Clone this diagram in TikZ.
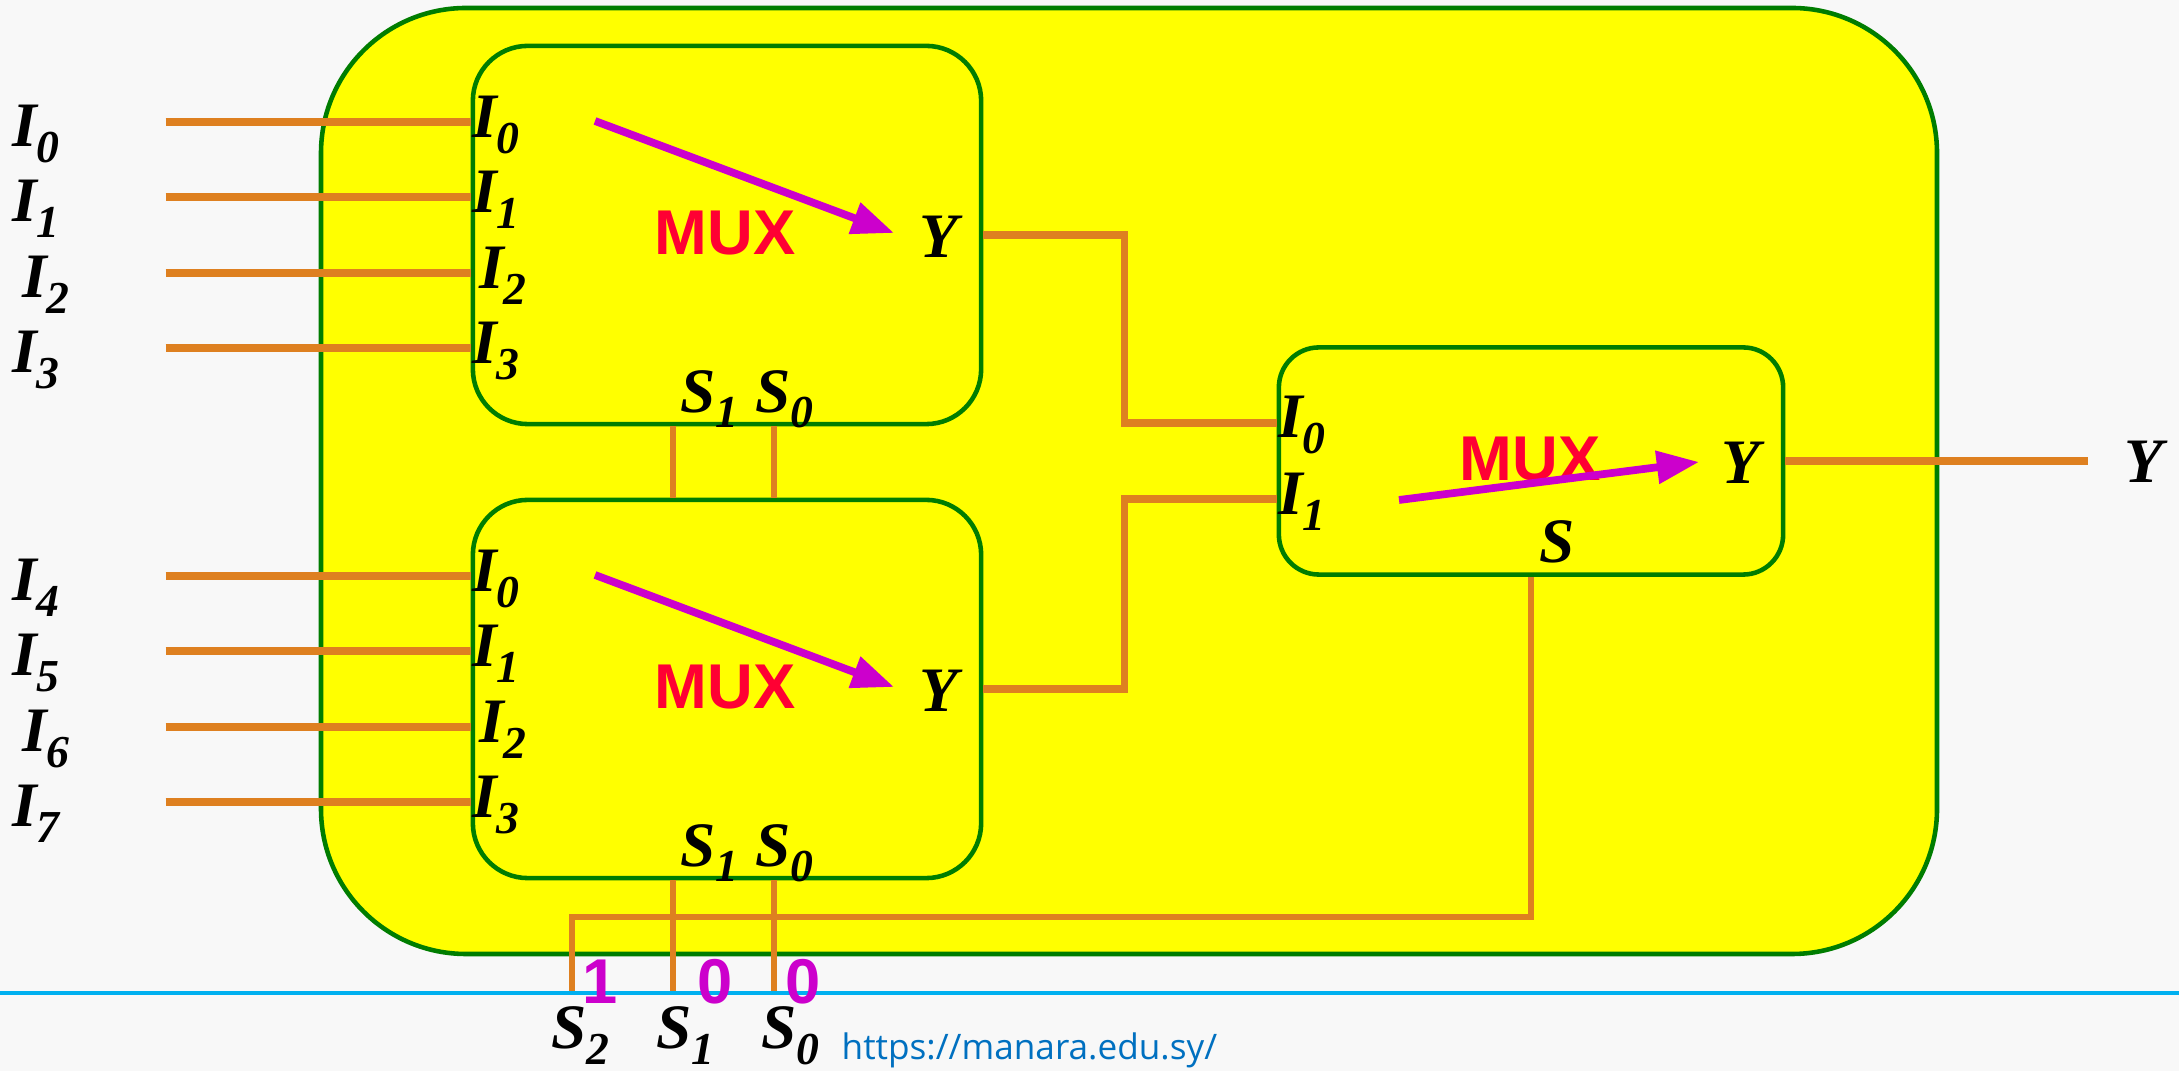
\documentclass[tikz,border=0pt]{standalone}
\usepackage{fontspec}
\setmainfont{Liberation Serif}
\newfontfamily\muxfont{Liberation Sans}
\newfontfamily\urlfont{Open Sans}
\usetikzlibrary{arrows.meta, positioning, calc}

\definecolor{wire}{RGB}{222,128,32}
\definecolor{frame}{RGB}{0,125,0}
\definecolor{route}{RGB}{204,0,204}
\definecolor{muxred}{RGB}{255,0,51}
\definecolor{rule}{RGB}{0,176,240}
\definecolor{link}{RGB}{0,112,192}
\definecolor{paper}{RGB}{248,248,248}
\definecolor{board}{RGB}{255,255,0}

\newcommand{\sig}[2]{\bfseries\itshape #1\raisebox{-4.3pt}{\fontsize{13}{13}\selectfont #2}}

\begin{document}
\begin{tikzpicture}[
    x=0.01cm, y=-0.01cm,
    mux/.style={draw=frame, line width=1.3pt, fill=board,
                rounded corners=0.55cm, minimum width=5.08cm,
                minimum height=3.78cm},
    lbl/.style={font=\fontsize{18}{18}\selectfont, inner sep=0pt},
    io/.style={wire, line width=2pt},
    sel/.style={wire, line width=1.6pt},
    flow/.style={route, line width=2.2pt, -{Triangle[length=12pt, width=9pt]}},
    tag/.style={font=\muxfont\fontsize{18}{18}\selectfont\bfseries,
                text=muxred, inner sep=0pt},
    bit/.style={font=\muxfont\fontsize{18}{18}\selectfont\bfseries,
                text=route, inner sep=0pt}
  ]
  \fill[paper] (0,0) rectangle (2179,1071);
  \useasboundingbox (0,0) rectangle (2179,1071);

  % outer box
  \draw[frame, line width=1.3pt, fill=board, rounded corners=1.45cm]
    (321,8) rectangle (1937,954);

  \node[mux] (muxA) at (727,235) {};
  \node[mux] (muxB) at (727,689) {};
  \node[mux, minimum width=5.04cm, minimum height=2.27cm,
        rounded corners=0.4cm] (muxC) at (1531,461) {};

  % data inputs of the two 4-to-1 muxes
  \foreach \m/\k in {A/0, B/4} {
    \foreach \j/\dy/\dx in {0/-113/0, 1/-38/0, 2/38/10, 3/113/0} {
      \pgfmathtruncatemacro{\n}{\k+\j}
      \coordinate (p\m\j) at ($(mux\m.west)+(0,\dy)$);
      \coordinate (w\n) at ($(p\m\j)+(-305,0)$);
      \draw[io] (w\n) -- (p\m\j);
      \node[lbl, anchor=base west] (x\n) at ($(w\n)+(-154+\dx,25)$) {\sig{I}{\n}};
      \node[lbl, anchor=base west] (i\m\j) at ($(p\m\j)+(1+0.7*\dx,16)$) {\sig{I}{\j}};
    }
    \node[lbl, anchor=base] (y\m) at ($(mux\m.east)+(-45,23)$) {\sig{Y}{}};
    \node[tag, anchor=base] (t\m) at ($(mux\m)+(-2,20)$) {MUX};
    \draw[flow] ($(mux\m)+(-132,-114)$) -- ($(mux\m)+(167,-2)$);
    \node[lbl, anchor=base west] (a\m1) at ($(mux\m.south)+(-47,-14)$) {\sig{S}{1}};
    \node[lbl, anchor=base west] (a\m0) at ($(mux\m.south)+(28,-14)$) {\sig{S}{0}};
  }

  % 2-to-1 mux
  \coordinate (cI0) at ($(muxC.west)+(0,-38)$);
  \coordinate (cI1) at ($(muxC.west)+(0,38)$);
  \coordinate (yout) at ($(muxC.east)+(303,0)$);
  \node[lbl, anchor=base west] (iC0) at ($(cI0)+(1,15)$) {\sig{I}{0}};
  \node[lbl, anchor=base west] (iC1) at ($(cI1)+(1,16)$) {\sig{I}{1}};
  \node[lbl, anchor=base] (yC) at ($(muxC.east)+(-45,23)$) {\sig{Y}{}};
  \node[lbl, anchor=base] (aC) at ($(muxC.south)+(26,-14)$) {\sig{S}{}};
  \node[tag, anchor=base] (tC) at ($(muxC)+(-1,20)$) {MUX};
  \draw[flow] ($(muxC)+(-132,39)$) -- ($(muxC)+(168,1)$);

  \draw[io] (muxA.east) -| ($(cI0)+(-152,0)$) -- (cI0);
  \draw[io] (muxB.east) -| ($(cI1)+(-152,0)$) -- (cI1);
  \draw[io] (muxC.east) -- (yout);
  \node[lbl, anchor=base] (yO) at ($(yout)+(55,22)$) {\sig{Y}{}};

  % select lines
  \draw[rule, line width=1.4pt] (0,993) -- (2179,993);
  \coordinate (s2) at (572,991);
  \coordinate (s1) at (673,991);
  \coordinate (s0) at (774,991);
  \draw[sel] (muxA.south -| s1) -- (muxB.north -| s1);
  \draw[sel] (muxA.south -| s0) -- (muxB.north -| s0);
  \draw[sel] (muxB.south -| s1) -- (s1);
  \draw[sel] (muxB.south -| s0) -- (s0);
  \draw[sel] (muxC.south) -- ++(0,340) -| (s2);

  \node[lbl, anchor=base west] (b2) at ($(s2)+(-21,58)$) {\sig{S}{2}};
  \node[lbl, anchor=base west] (b1) at ($(s1)+(-17,58)$) {\sig{S}{1}};
  \node[lbl, anchor=base west] (b0) at ($(s0)+(-13,58)$) {\sig{S}{0}};
  \node[bit, anchor=base] (v2) at ($(s2)+(28,13)$) {1};
  \node[bit, anchor=base] (v1) at ($(s1)+(42,13)$) {0};
  \node[bit, anchor=base] (v0) at ($(s0)+(29,13)$) {0};

  \node[font=\urlfont\fontsize{10}{10}\selectfont, text=link, inner sep=0pt,
        anchor=base west] (url) at (841,1060) {https://manara.edu.sy/};
\end{tikzpicture}
\end{document}
